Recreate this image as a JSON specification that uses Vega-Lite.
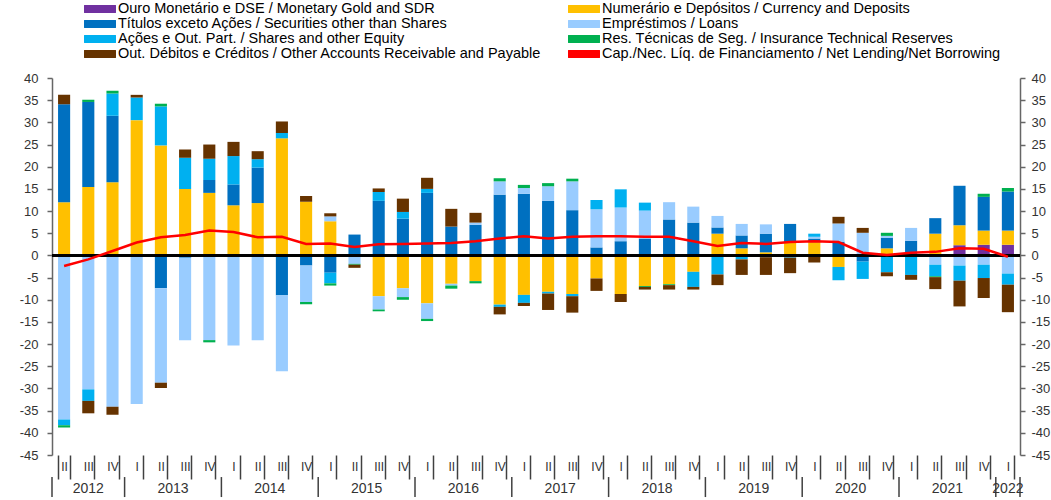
{
  "$schema": "https://vega.github.io/schema/vega-lite/v6.json",
  "width": 968,
  "height": 377,
  "autosize": "none",
  "padding": {"left": 52, "top": 78, "right": 31, "bottom": 45},
  "background": "white",
  "config": {"view": {"stroke": null}, "font": "Liberation Sans"},
  "datasets": {
    "main": [
      {"q": "2012-II", "s6": 12.0, "s5": 22.1, "s1": 2.1, "s4": -37.0, "s3": -1.3, "s2": -0.5, "n": -2.4},
      {"q": "2012-III", "s6": 15.4, "s5": 19.2, "s2": 0.5, "s4": -30.2, "s3": -2.6, "s1": -2.8, "n": -0.9},
      {"q": "2012-IV", "s6": 16.5, "s5": 15.0, "s3": 5.0, "s2": 0.6, "s4": -34.1, "s1": -1.8, "n": 1.0},
      {"q": "2013-I", "s6": 30.5, "s3": 5.1, "s1": 0.6, "s4": -33.5, "n": 2.9},
      {"q": "2013-II", "s6": 24.8, "s3": 8.8, "s2": 0.6, "s5": -7.4, "s4": -21.3, "s1": -1.2, "n": 4.1},
      {"q": "2013-III", "s6": 15.0, "s3": 7.0, "s1": 1.9, "s5": -0.5, "s4": -18.6, "n": 4.6},
      {"q": "2013-IV", "s6": 14.1, "s5": 2.9, "s3": 4.8, "s1": 3.2, "s4": -19.1, "s2": -0.5, "n": 5.6},
      {"q": "2014-I", "s6": 11.3, "s5": 4.7, "s3": 6.4, "s1": 3.2, "s4": -20.3, "n": 5.3},
      {"q": "2014-II", "s6": 11.8, "s5": 8.0, "s3": 1.9, "s1": 1.8, "s4": -19.1, "n": 4.1},
      {"q": "2014-III", "s6": 26.4, "s3": 1.2, "s1": 2.6, "s5": -9.0, "s4": -17.1, "n": 4.2},
      {"q": "2014-IV", "s6": 12.1, "s1": 1.3, "s5": -2.3, "s4": -8.2, "s2": -0.5, "n": 2.6},
      {"q": "2015-I", "s6": 7.7, "s4": 1.1, "s1": 0.7, "s5": -3.9, "s3": -2.4, "s2": -0.5, "n": 2.7},
      {"q": "2015-II", "s5": 4.7, "s4": -1.9, "s2": -0.2, "s1": -0.7, "n": 1.9},
      {"q": "2015-III", "s5": 12.3, "s3": 2.0, "s1": 0.8, "s6": -9.2, "s4": -3.0, "s2": -0.4, "n": 2.5},
      {"q": "2015-IV", "s5": 8.3, "s3": 1.5, "s1": 3.0, "s6": -7.4, "s4": -2.0, "s2": -0.6, "n": 2.6},
      {"q": "2016-I", "s5": 14.1, "s3": 0.9, "s1": 2.5, "s6": -10.8, "s4": -3.5, "s2": -0.5, "n": 2.7},
      {"q": "2016-II", "s5": 6.5, "s1": 4.0, "s6": -6.4, "s4": -0.4, "s2": -0.7, "n": 2.8},
      {"q": "2016-III", "s5": 6.9, "s4": 0.5, "s1": 2.2, "s6": -5.8, "s2": -0.5, "n": 3.2},
      {"q": "2016-IV", "s5": 13.7, "s4": 3.0, "s2": 0.7, "s6": -11.1, "s3": -0.5, "s1": -1.7, "n": 3.8},
      {"q": "2017-I", "s5": 13.9, "s4": 1.3, "s2": 0.7, "s6": -8.9, "s3": -1.8, "s1": -0.7, "n": 4.3},
      {"q": "2017-II", "s5": 12.3, "s4": 3.3, "s2": 0.7, "s6": -8.2, "s3": -0.4, "s1": -3.7, "n": 3.8},
      {"q": "2017-III", "s5": 10.2, "s4": 6.5, "s2": 0.6, "s6": -8.7, "s3": -0.5, "s1": -3.7, "n": 4.2},
      {"q": "2017-IV", "s5": 1.8, "s4": 8.6, "s3": 2.1, "s6": -5.2, "s1": -2.8, "n": 4.3},
      {"q": "2018-I", "s5": 3.2, "s4": 7.6, "s3": 4.1, "s6": -8.7, "s1": -1.8, "n": 4.3},
      {"q": "2018-II", "s5": 3.8, "s4": 6.3, "s3": 1.8, "s6": -6.9, "s2": -0.2, "s1": -0.6, "n": 4.2},
      {"q": "2018-III", "s5": 8.1, "s4": 3.9, "s6": -6.5, "s2": -0.2, "s1": -1.0, "n": 4.2},
      {"q": "2018-IV", "s5": 7.4, "s4": 3.6, "s6": -3.7, "s3": -3.4, "s1": -0.6, "n": 3.2},
      {"q": "2019-I", "s6": 4.9, "s5": 1.4, "s4": 2.6, "s3": -4.3, "s1": -2.4, "n": 2.1},
      {"q": "2019-II", "s6": 1.6, "s5": 2.9, "s4": 2.6, "s3": -0.9, "s1": -3.5, "n": 2.8},
      {"q": "2019-III", "s6": 0.7, "s5": 4.2, "s4": 2.1, "s3": -0.4, "s1": -4.0, "n": 2.6},
      {"q": "2019-IV", "s6": 2.9, "s5": 4.2, "s3": -0.5, "s1": -3.5, "n": 3.0},
      {"q": "2020-I", "s6": 3.0, "s5": 0.8, "s4": 0.4, "s3": 0.7, "s1": -1.6, "n": 3.2},
      {"q": "2020-II", "s5": 3.1, "s4": 4.1, "s1": 1.5, "s6": -2.6, "s3": -3.0, "n": 3.0},
      {"q": "2020-III", "s4": 5.1, "s1": 1.1, "s5": -1.4, "s3": -3.9, "n": 0.6},
      {"q": "2020-IV", "s6": 1.6, "s5": 2.4, "s4": 0.4, "s2": 0.7, "s3": -3.8, "s1": -0.9, "n": 0.1},
      {"q": "2021-I", "s5": 3.3, "s4": 2.9, "s3": -4.4, "s1": -1.1, "n": 0.6},
      {"q": "2021-II", "s6": 4.9, "s5": 3.5, "s4": -2.1, "s3": -2.6, "s2": -0.2, "s1": -2.7, "n": 0.8},
      {"q": "2021-III", "s7": 2.3, "s6": 4.5, "s5": 8.9, "s4": -2.3, "s3": -3.4, "s1": -5.8, "n": 1.6},
      {"q": "2021-IV", "s7": 2.4, "s6": 3.2, "s5": 7.6, "s2": 0.7, "s4": -2.1, "s3": -3.0, "s1": -4.5, "n": 1.5},
      {"q": "2022-I", "s7": 2.4, "s6": 3.2, "s5": 8.8, "s2": 0.8, "s4": -4.1, "s3": -2.5, "s1": -6.2, "n": -0.3}
    ],
    "ysep": [
      {"q": "2012-II"}, {"q": "2013-I"}, {"q": "2014-I"}, {"q": "2015-I"}, {"q": "2016-I"}, {"q": "2017-I"},
      {"q": "2018-I"}, {"q": "2019-I"}, {"q": "2020-I"}, {"q": "2021-I"}, {"q": "2022-I"}
    ],
    "ylab": [
      {"q": "2013-III", "y": "2013"}, {"q": "2014-III", "y": "2014"}, {"q": "2015-III", "y": "2015"},
      {"q": "2016-III", "y": "2016"}, {"q": "2017-III", "y": "2017"}, {"q": "2018-III", "y": "2018"},
      {"q": "2019-III", "y": "2019"}, {"q": "2020-III", "y": "2020"}, {"q": "2021-III", "y": "2021"}
    ],
    "ylab2": [
      {"q": "2012-III", "y": "2012"}, {"q": "2022-I", "y": "2022"}
    ]
  },
  "data": {"name": "main"},
  "layer": [
    {
      "transform": [
        {"fold": ["s7", "s6", "s5", "s4", "s3", "s2", "s1"], "as": ["s", "v"]},
        {"filter": "isValid(datum.v) && datum.v != 0"}
      ],
      "mark": {"type": "bar"},
      "encoding": {
        "x": {
          "field": "q", "type": "nominal",
          "scale": {"paddingInner": 0.5, "paddingOuter": 0.25},
          "axis": {
            "orient": "bottom", "title": null, "domain": false, "grid": false,
            "tickBand": "extent", "tickSize": 24, "tickColor": "#404040", "tickWidth": 1.5,
            "labelExpr": "slice(datum.label + '', 5)", "labelAngle": 0, "labelPadding": -18,
            "labelFontSize": 12, "labelColor": "#333333"
          }
        },
        "y": {
          "field": "v", "type": "quantitative", "stack": "zero",
          "scale": {"domain": [-45, 40], "nice": false, "zero": false},
          "axis": {
            "orient": "left", "title": null, "grid": false,
            "values": [-45, -40, -35, -30, -25, -20, -15, -10, -5, 0, 5, 10, 15, 20, 25, 30, 35, 40],
            "labelExpr": "'' + datum.value",
            "tickSize": 5, "tickColor": "#666666", "tickWidth": 1.5,
            "domainColor": "#666666", "domainWidth": 1.5,
            "labelPadding": 9, "labelFontSize": 13, "labelColor": "#333333"
          }
        },
        "color": {
          "field": "s", "type": "nominal",
          "scale": {
            "domain": ["s7", "s5", "s3", "s1", "s6", "s4", "s2", "s0"],
            "range": ["#7030A0", "#0070C0", "#00B0F0", "#663300", "#FFC000", "#99CCFF", "#00B050", "#FF0000"]
          },
          "legend": {
            "title": null, "orient": "none", "legendX": 40.5, "legendY": -76.5,
            "columns": 2, "columnPadding": 26, "rowPadding": 0,
            "symbolType": "M-2.13,-0.53H2.13V0.53H-2.13Z", "symbolSize": 225, "symbolStrokeWidth": 0,
            "labelOffset": 10.5,
            "labelFontSize": 14.5, "labelColor": "#000000", "labelLimit": 1000,
            "labelExpr": "datum.value == 's7' ? 'Ouro Monetário e DSE / Monetary Gold and SDR' : datum.value == 's6' ? 'Numerário e Depósitos / Currency and Deposits' : datum.value == 's5' ? 'Títulos exceto Ações / Securities other than Shares' : datum.value == 's4' ? 'Empréstimos / Loans' : datum.value == 's3' ? 'Ações e Out. Part. / Shares and other Equity' : datum.value == 's2' ? 'Res. Técnicas de Seg. / Insurance Technical Reserves' : datum.value == 's1' ? 'Out. Débitos e Créditos / Other Accounts Receivable and Payable' : 'Cap./Nec. Líq. de Financiamento / Net Lending/Net Borrowing'"
          }
        }
      }
    },
    {
      "mark": {"type": "rule", "color": "#000000", "strokeWidth": 1.5},
      "encoding": {
        "y": {"datum": 0, "type": "quantitative", "scale": {"domain": [-45, 40], "nice": false, "zero": false}, "axis": null}
      }
    },
    {
      "mark": {"type": "line", "color": "#FF0000", "strokeWidth": 2.5},
      "encoding": {
        "x": {"field": "q", "type": "nominal"},
        "y": {
          "field": "n", "type": "quantitative",
          "scale": {"domain": [-45, 40], "nice": false, "zero": false},
          "axis": {
            "orient": "right", "title": null, "grid": false,
            "values": [-45, -40, -35, -30, -25, -20, -15, -10, -5, 0, 5, 10, 15, 20, 25, 30, 35, 40],
            "labelExpr": "'' + datum.value",
            "tickSize": 5, "tickColor": "#666666", "tickWidth": 1.5,
            "domainColor": "#666666", "domainWidth": 1.5,
            "labelPadding": 6, "labelFontSize": 13, "labelColor": "#333333"
          }
        }
      }
    },
    {
      "data": {"name": "ysep"},
      "mark": {"type": "rule", "xOffset": -6.05, "color": "#404040", "strokeWidth": 1.5},
      "encoding": {
        "x": {"field": "q", "type": "nominal", "bandPosition": 0},
        "y": {"datum": -49.97, "type": "quantitative", "scale": {"domain": [-45, 40], "nice": false, "zero": false}, "axis": null},
        "y2": {"datum": -54.48}
      }
    },
    {
      "data": {"name": "ysep"},
      "transform": [{"filter": "datum.q == '2022-I'"}],
      "mark": {"type": "rule", "xOffset": 6.05, "color": "#404040", "strokeWidth": 1.5},
      "encoding": {
        "x": {"field": "q", "type": "nominal", "bandPosition": 1},
        "y": {"datum": -49.97, "type": "quantitative", "scale": {"domain": [-45, 40], "nice": false, "zero": false}, "axis": null},
        "y2": {"datum": -54.48}
      }
    },
    {
      "data": {"name": "ylab"},
      "mark": {"type": "text", "xOffset": -6.05, "fontSize": 14, "color": "#333333"},
      "encoding": {
        "x": {"field": "q", "type": "nominal", "bandPosition": 0},
        "y": {"datum": -52.67, "type": "quantitative", "scale": {"domain": [-45, 40], "nice": false, "zero": false}, "axis": null},
        "text": {"field": "y", "type": "nominal"}
      }
    },
    {
      "data": {"name": "ylab2"},
      "mark": {"type": "text", "fontSize": 14, "color": "#333333"},
      "encoding": {
        "x": {"field": "q", "type": "nominal", "bandPosition": 0.5},
        "y": {"datum": -52.67, "type": "quantitative", "scale": {"domain": [-45, 40], "nice": false, "zero": false}, "axis": null},
        "text": {"field": "y", "type": "nominal"}
      }
    }
  ],
  "resolve": {"axis": {"y": "independent"}}
}
